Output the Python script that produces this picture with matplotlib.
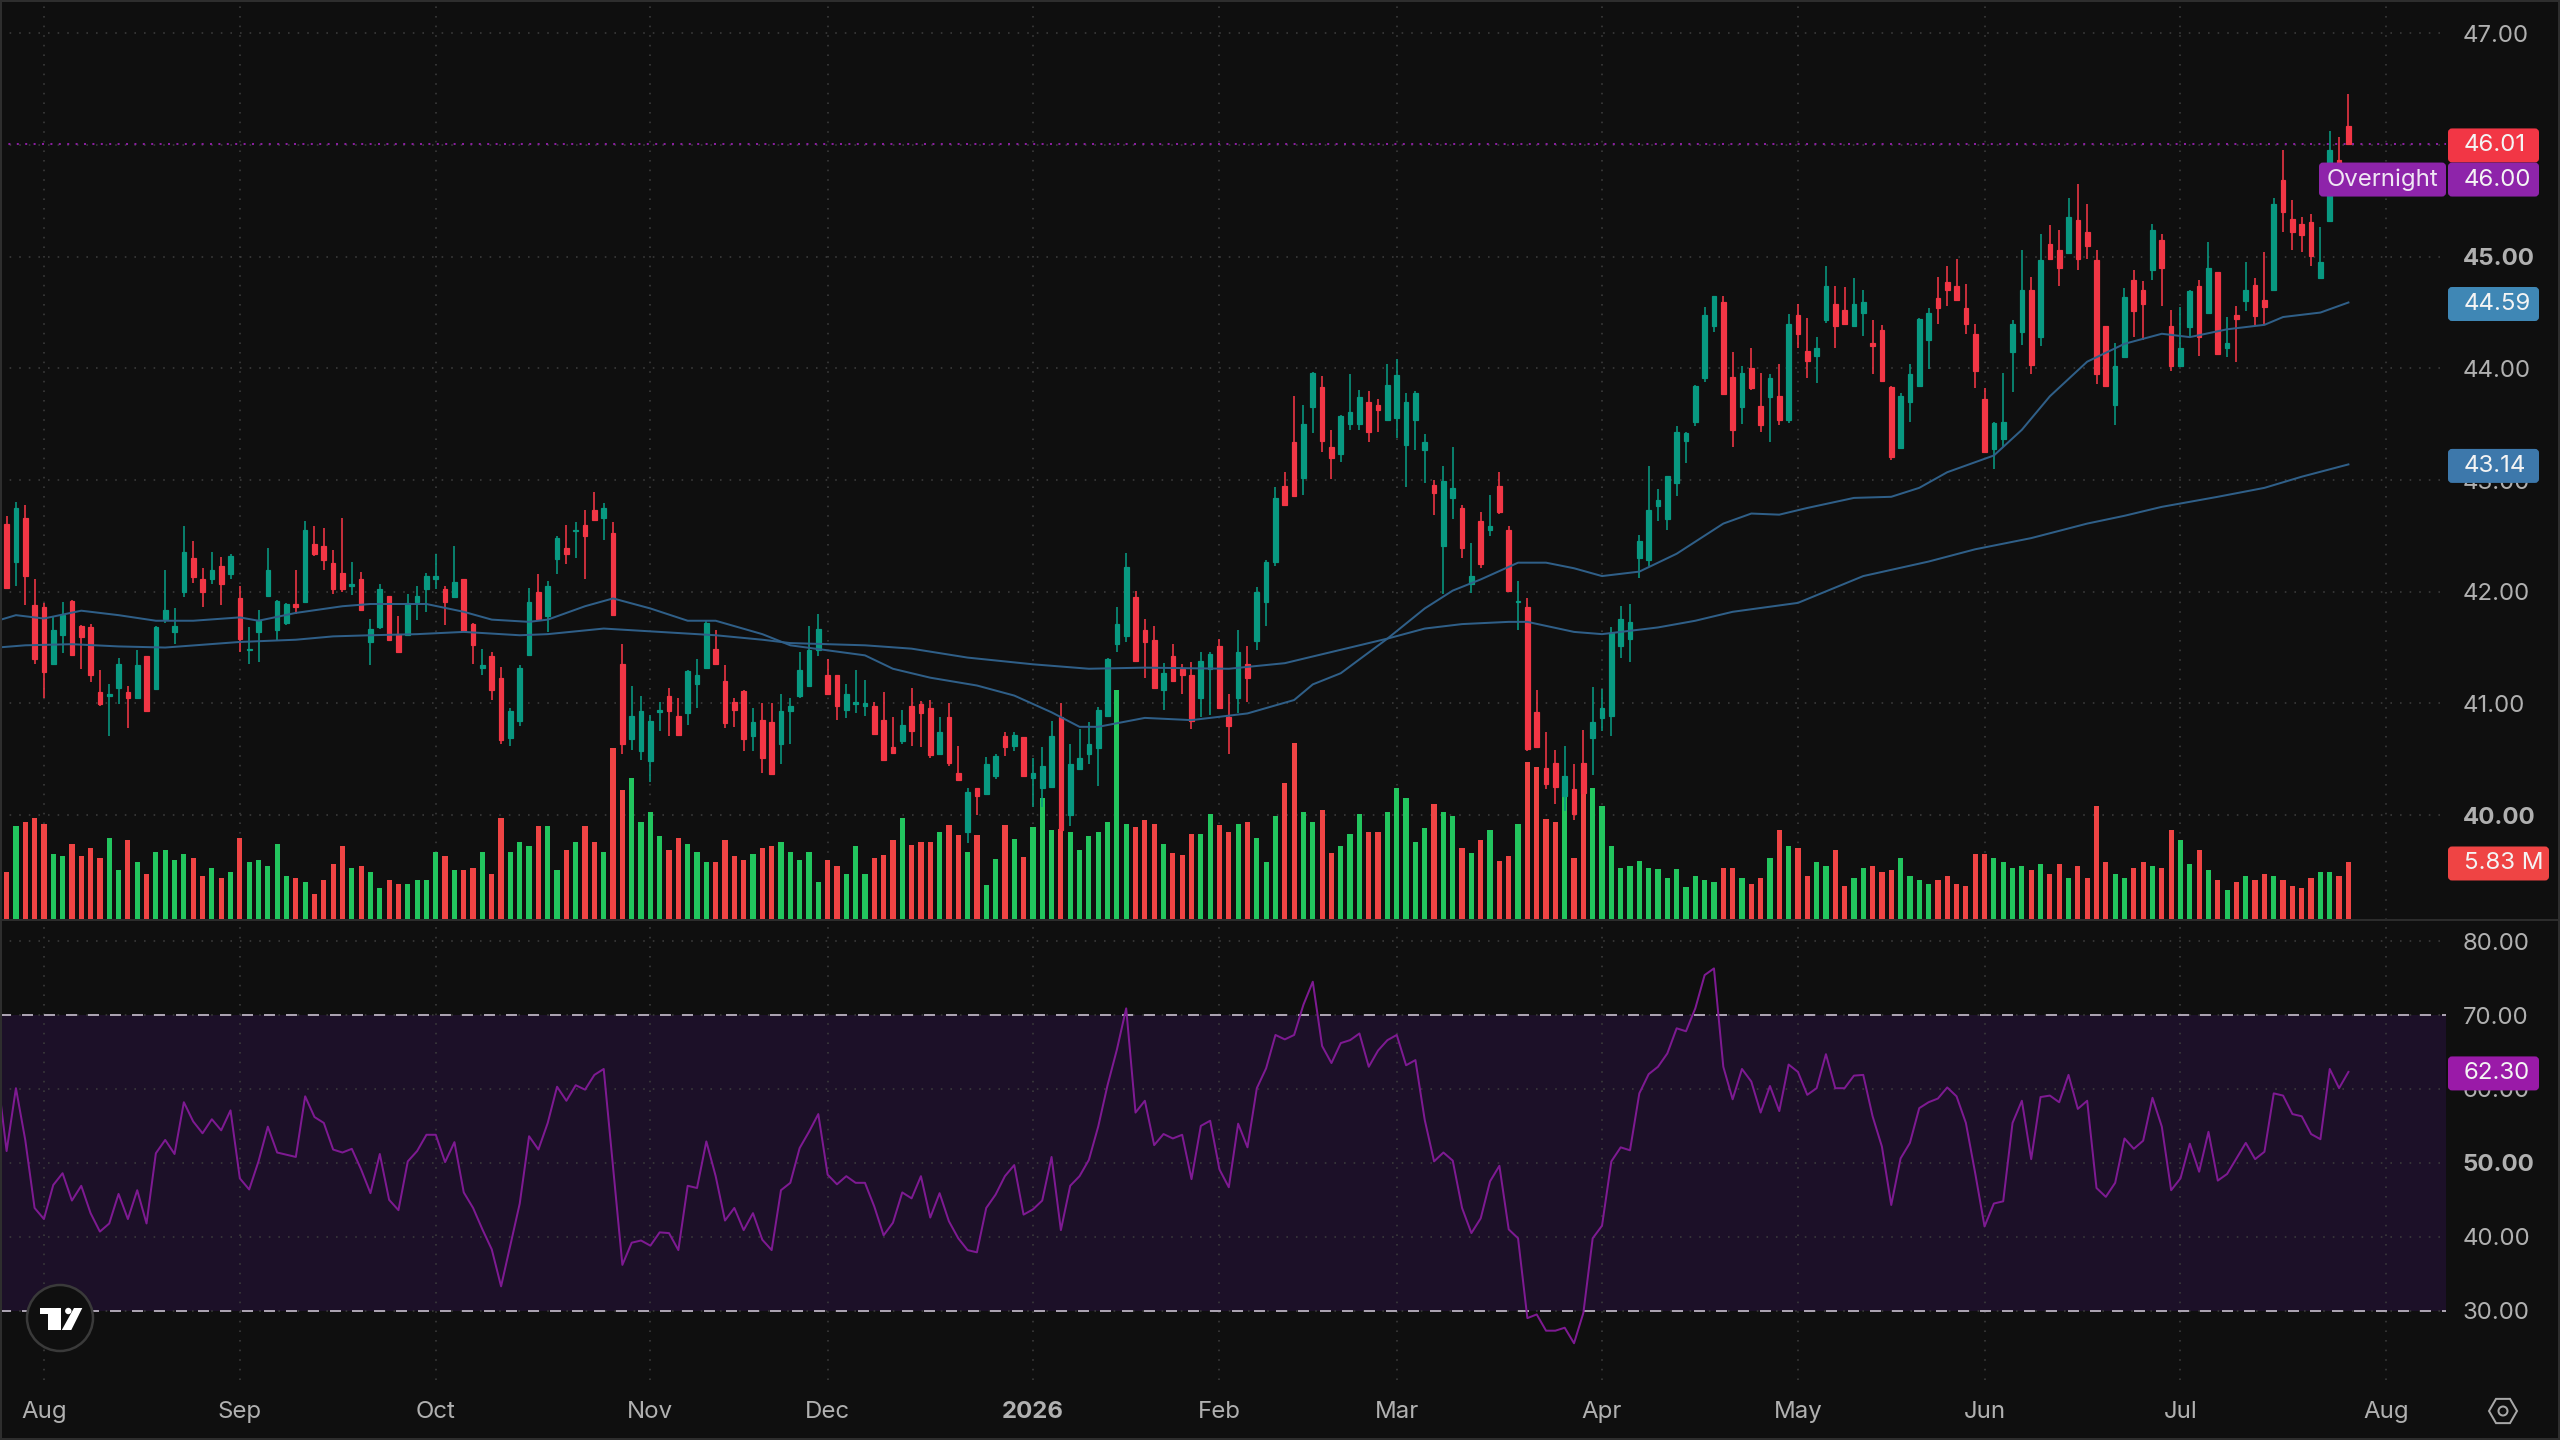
#! /usr/bin/env python3

import matplotlib
matplotlib.use("Agg")
import matplotlib.pyplot as plt
from matplotlib.patches import Circle, FancyBboxPatch, Polygon, Rectangle, RegularPolygon
from matplotlib.lines import Line2D
import numpy as np

W = 2560
H = 1440

# daily session data, one entry per trading day
opens = [
  42.61, 42.27, 42.66, 41.88, 41.86, 41.35, 41.61, 41.92, 41.69, 41.68,
  41.10, 41.07, 41.14, 41.10, 41.05, 41.42, 41.13, 41.76, 41.64, 42.00,
  42.30, 42.11, 42.11, 42.23, 42.16, 41.94, 41.48, 41.64, 41.96, 41.66,
  41.72, 41.89, 41.91, 42.43, 42.41, 42.26, 42.17, 42.05, 42.11, 41.55,
  41.68, 41.96, 41.62, 41.61, 41.91, 42.02, 42.11, 42.02, 41.95, 42.11,
  41.71, 41.32, 41.42, 41.23, 40.69, 40.84, 41.43, 42.00, 41.78, 42.29,
  42.39, 42.54, 42.60, 42.73, 42.66, 42.53, 41.35, 40.68, 40.57, 40.48,
  40.92, 41.07, 40.89, 40.91, 41.17, 41.32, 41.49, 41.20, 41.01, 41.11,
  40.71, 40.85, 40.83, 40.64, 40.93, 41.07, 41.16, 41.48, 41.25, 41.25,
  40.94, 40.99, 40.98, 40.98, 40.85, 40.61, 40.66, 40.98, 40.99, 40.96,
  40.55, 40.88, 40.38, 39.85, 40.24, 40.19, 40.35, 40.71, 40.62, 40.70,
  40.33, 40.24, 40.25, 40.88, 40.00, 40.41, 40.55, 40.60, 40.89, 41.53,
  41.60, 41.95, 41.66, 41.57, 41.12, 41.42, 41.31, 41.25, 41.05, 41.31,
  41.51, 40.88, 41.05, 41.35, 41.56, 41.91, 42.27, 42.95, 43.34, 43.02,
  43.65, 43.83, 43.30, 43.23, 43.50, 43.50, 43.70, 43.67, 43.54, 43.56,
  43.31, 43.54, 43.27, 42.96, 42.41, 42.84, 42.75, 42.07, 42.63, 42.55,
  42.95, 42.55, 41.91, 41.86, 40.92, 40.42, 40.47, 40.17, 40.23, 40.47,
  40.69, 40.87, 40.89, 41.51, 41.58, 42.30, 42.28, 42.77, 42.65, 42.97,
  43.35, 43.52, 43.91, 44.38, 44.59, 43.92, 43.65, 44.00, 43.66, 43.74,
  43.75, 43.54, 44.48, 44.16, 44.11, 44.43, 44.58, 44.52, 44.38, 44.50,
  44.23, 44.34, 43.83, 43.29, 43.70, 43.84, 44.25, 44.63, 44.77, 44.74,
  44.54, 44.31, 43.73, 43.28, 43.37, 44.15, 44.33, 44.70, 44.28, 45.11,
  45.06, 45.03, 45.33, 45.22, 44.97, 44.38, 43.67, 44.10, 44.79, 44.70,
  44.88, 45.15, 44.38, 44.02, 44.37, 44.74, 44.50, 44.86, 44.18, 44.48,
  44.60, 44.75, 44.61, 44.70, 45.69, 45.34, 45.29, 45.31, 44.81, 45.32,
  45.87, 46.17,
]
closes = [
  42.03, 42.75, 42.14, 41.40, 41.28, 41.66, 41.79, 41.43, 41.59, 41.25,
  40.99, 41.08, 41.35, 41.05, 41.34, 40.93, 41.68, 41.84, 41.69, 42.36,
  42.13, 42.00, 42.19, 42.07, 42.32, 41.58, 41.49, 41.75, 42.19, 41.92,
  41.89, 41.86, 42.55, 42.34, 42.28, 42.02, 42.02, 42.07, 41.84, 41.67,
  42.02, 41.57, 41.46, 41.90, 41.96, 42.14, 42.14, 41.91, 42.09, 41.65,
  41.52, 41.34, 41.12, 40.67, 40.93, 41.32, 41.91, 41.76, 42.05, 42.48,
  42.34, 42.55, 42.50, 42.64, 42.75, 41.79, 40.64, 40.89, 40.93, 40.84,
  40.94, 40.93, 40.72, 41.29, 41.25, 41.72, 41.35, 40.82, 40.94, 40.68,
  40.83, 40.51, 40.37, 40.93, 40.98, 41.30, 41.48, 41.67, 41.08, 40.98,
  41.08, 41.01, 41.00, 40.73, 40.49, 40.56, 40.81, 40.75, 40.91, 40.54,
  40.74, 40.47, 40.31, 40.21, 40.17, 40.46, 40.53, 40.61, 40.72, 40.35,
  40.38, 40.44, 40.71, 39.87, 40.46, 40.51, 40.64, 40.94, 41.40, 41.71,
  42.22, 41.38, 41.55, 41.14, 41.27, 41.20, 41.25, 40.84, 41.38, 41.44,
  40.96, 40.80, 41.46, 41.23, 42.00, 42.27, 42.84, 42.78, 42.86, 43.50,
  43.96, 43.35, 43.20, 43.57, 43.61, 43.74, 43.43, 43.63, 43.85, 43.94,
  43.70, 43.78, 43.34, 42.88, 42.99, 42.93, 42.39, 42.14, 42.25, 42.59,
  42.71, 42.01, 41.92, 40.59, 40.61, 40.28, 40.25, 40.35, 40.01, 40.20,
  40.83, 40.96, 41.63, 41.76, 41.73, 42.45, 42.73, 42.82, 43.04, 43.43,
  43.42, 43.84, 44.48, 44.65, 43.77, 43.45, 43.96, 43.82, 43.49, 43.91,
  43.54, 44.40, 44.31, 44.07, 44.18, 44.74, 44.38, 44.40, 44.58, 44.59,
  44.20, 43.89, 43.21, 43.75, 43.95, 44.44, 44.50, 44.54, 44.70, 44.61,
  44.40, 43.98, 43.25, 43.51, 43.52, 44.40, 44.70, 44.03, 44.97, 44.98,
  44.90, 45.36, 44.98, 45.10, 43.95, 43.84, 44.02, 44.64, 44.51, 44.58,
  45.24, 44.90, 44.02, 44.18, 44.69, 44.28, 44.90, 44.13, 44.23, 44.44,
  44.70, 44.47, 44.55, 45.47, 45.40, 45.22, 45.19, 45.01, 44.95, 45.96,
  45.72, 46.01,
]
highs = [
  42.68, 42.80, 42.78, 42.11, 41.90, 41.78, 41.91, 41.93, 41.70, 41.71,
  41.30, 41.17, 41.41, 41.16, 41.48, 41.42, 41.69, 42.19, 41.85, 42.59,
  42.45, 42.21, 42.36, 42.31, 42.34, 42.05, 41.68, 41.84, 42.39, 41.93,
  41.90, 42.19, 42.63, 42.59, 42.57, 42.37, 42.66, 42.27, 42.18, 41.76,
  42.07, 41.96, 41.78, 41.98, 42.05, 42.17, 42.34, 42.05, 42.41, 42.11,
  41.72, 41.49, 41.46, 41.33, 40.96, 41.34, 42.03, 42.16, 42.10, 42.50,
  42.60, 42.62, 42.73, 42.89, 42.79, 42.62, 41.53, 41.16, 41.07, 40.90,
  41.01, 41.14, 41.05, 41.30, 41.40, 41.74, 41.66, 41.34, 41.05, 41.12,
  40.96, 41.00, 41.00, 41.08, 41.05, 41.46, 41.69, 41.80, 41.40, 41.25,
  41.17, 41.30, 41.21, 41.01, 41.10, 40.88, 40.94, 41.14, 41.02, 41.03,
  40.88, 41.00, 40.62, 40.24, 40.24, 40.52, 40.55, 40.74, 40.74, 40.70,
  40.51, 40.61, 40.84, 41.00, 40.64, 40.77, 40.83, 40.97, 41.41, 41.86,
  42.35, 42.01, 41.76, 41.69, 41.36, 41.53, 41.35, 41.37, 41.46, 41.46,
  41.58, 41.08, 41.66, 41.51, 42.04, 42.28, 42.94, 43.07, 43.75, 43.67,
  43.97, 43.93, 43.45, 43.58, 43.95, 43.81, 43.80, 43.73, 44.04, 44.08,
  43.78, 43.80, 43.41, 43.00, 43.13, 43.30, 42.78, 42.44, 42.71, 42.87,
  43.07, 42.59, 42.10, 41.94, 41.12, 40.74, 40.58, 40.62, 40.46, 40.76,
  41.15, 41.13, 41.68, 41.87, 41.89, 42.51, 43.13, 42.92, 43.04, 43.48,
  43.43, 43.85, 44.55, 44.65, 44.65, 44.15, 44.02, 44.18, 43.96, 43.95,
  44.04, 44.49, 44.58, 44.45, 44.28, 44.92, 44.74, 44.73, 44.81, 44.70,
  44.43, 44.39, 43.84, 43.78, 44.04, 44.45, 44.54, 44.82, 44.92, 44.98,
  44.76, 44.40, 43.82, 43.52, 43.96, 44.43, 45.06, 44.82, 45.20, 45.28,
  45.24, 45.53, 45.65, 45.47, 45.06, 44.38, 44.23, 44.72, 44.88, 44.78,
  45.29, 45.20, 44.52, 44.55, 44.70, 44.79, 45.13, 44.86, 44.46, 44.56,
  44.95, 44.81, 45.04, 45.53, 45.96, 45.51, 45.36, 45.38, 45.27, 46.13,
  46.07, 46.46,
]
lows = [
  42.02, 42.05, 41.88, 41.35, 41.05, 41.34, 41.45, 41.42, 41.31, 41.19,
  40.98, 40.71, 40.99, 40.78, 41.05, 40.92, 41.12, 41.72, 41.53, 41.95,
  42.08, 41.86, 42.07, 41.88, 42.11, 41.46, 41.35, 41.37, 41.95, 41.57,
  41.70, 41.80, 41.91, 42.32, 42.19, 41.98, 42.00, 41.97, 41.84, 41.34,
  41.67, 41.57, 41.46, 41.60, 41.75, 41.82, 42.02, 41.70, 41.94, 41.64,
  41.35, 41.25, 41.03, 40.64, 40.62, 40.80, 41.42, 41.75, 41.64, 42.16,
  42.25, 42.30, 42.11, 42.64, 42.46, 41.78, 40.55, 40.58, 40.49, 40.30,
  40.75, 40.71, 40.71, 40.81, 40.96, 41.32, 41.35, 40.78, 40.79, 40.57,
  40.57, 40.38, 40.37, 40.46, 40.64, 41.05, 41.15, 41.42, 41.08, 40.85,
  40.87, 40.91, 40.89, 40.72, 40.48, 40.55, 40.64, 40.62, 40.61, 40.51,
  40.54, 40.44, 40.31, 39.75, 40.00, 40.19, 40.32, 40.53, 40.57, 40.35,
  40.07, 40.07, 40.24, 39.86, 39.90, 40.40, 40.46, 40.26, 40.88, 41.46,
  41.55, 41.37, 41.23, 41.14, 40.94, 41.19, 41.08, 40.77, 40.88, 40.90,
  40.95, 40.55, 40.91, 41.01, 41.48, 41.69, 42.23, 42.78, 42.86, 42.87,
  43.42, 43.25, 43.01, 43.16, 43.45, 43.45, 43.34, 43.43, 43.53, 43.38,
  42.94, 43.27, 42.97, 42.69, 41.98, 42.65, 42.30, 41.99, 42.21, 42.50,
  42.70, 42.00, 41.66, 40.57, 40.60, 40.23, 40.10, 40.04, 39.96, 40.19,
  40.36, 40.75, 40.71, 41.41, 41.37, 42.12, 42.23, 42.63, 42.55, 42.86,
  43.15, 43.48, 43.88, 44.33, 43.76, 43.30, 43.50, 43.81, 43.43, 43.34,
  43.49, 43.51, 44.18, 43.91, 43.87, 44.41, 44.18, 44.39, 44.37, 44.29,
  43.95, 43.88, 43.18, 43.28, 43.52, 43.84, 43.99, 44.40, 44.56, 44.61,
  44.31, 43.82, 43.25, 43.10, 43.30, 43.79, 44.21, 43.95, 44.20, 44.98,
  44.74, 45.02, 44.88, 44.98, 43.86, 43.84, 43.49, 44.10, 44.28, 44.25,
  44.79, 44.56, 43.98, 44.02, 44.28, 44.11, 44.49, 44.13, 44.10, 44.06,
  44.51, 44.39, 44.40, 44.69, 45.22, 45.06, 45.04, 44.92, 44.81, 45.31,
  45.63, 46.01,
]

# volume in millions of shares
volumes = [
  4.79, 9.45, 9.85, 10.22, 9.65, 6.60, 6.43, 7.64, 6.43, 7.20,
  6.20, 8.21, 5.03, 8.04, 5.83, 4.59, 6.80, 7.04, 6.03, 6.60,
  6.20, 4.42, 5.19, 4.19, 4.79, 8.21, 5.80, 6.03, 5.43, 7.64,
  4.42, 4.19, 3.79, 2.61, 4.02, 5.63, 7.44, 5.19, 5.43, 4.79,
  3.18, 4.02, 3.58, 3.58, 4.02, 4.02, 6.80, 6.43, 5.03, 5.03,
  5.19, 6.80, 4.59, 10.22, 6.80, 7.81, 7.44, 9.45, 9.45, 5.03,
  7.04, 7.81, 9.45, 7.81, 6.80, 17.25, 13.07, 14.24, 9.85, 10.89,
  8.44, 7.04, 8.21, 7.64, 6.80, 5.80, 5.80, 8.04, 6.43, 6.03,
  6.60, 7.20, 7.44, 7.81, 6.80, 6.03, 6.80, 3.79, 6.03, 5.43,
  4.59, 7.44, 4.65, 6.23, 6.50, 8.08, 10.27, 7.50, 7.88, 7.88,
  8.88, 9.50, 8.50, 6.88, 8.50, 3.50, 6.12, 9.50, 8.12, 6.31,
  9.31, 12.31, 9.04, 9.12, 8.88, 7.08, 8.46, 8.88, 9.88, 23.15,
  9.65, 9.31, 10.08, 9.69, 7.65, 6.69, 6.50, 8.69, 8.65, 10.65,
  9.50, 8.88, 9.69, 9.88, 8.27, 5.85, 10.46, 13.73, 17.77, 10.88,
  9.88, 11.08, 6.69, 7.46, 8.69, 10.65, 8.88, 8.88, 10.88, 13.31,
  12.31, 7.88, 9.27, 11.69, 10.88, 10.50, 7.27, 6.69, 8.08, 9.08,
  5.88, 6.46, 9.69, 15.92, 15.35, 10.12, 9.88, 14.50, 6.27, 12.77,
  13.31, 11.50, 7.46, 5.27, 5.46, 5.88, 5.27, 5.08, 4.23, 5.08,
  3.27, 4.42, 4.02, 3.82, 5.23, 5.23, 4.22, 3.62, 4.22, 6.23,
  9.05, 7.44, 7.24, 4.42, 5.83, 5.43, 7.04, 3.42, 4.22, 5.23,
  5.43, 4.82, 5.03, 6.23, 4.42, 4.02, 3.62, 4.02, 4.42, 3.62,
  3.42, 6.63, 6.63, 6.23, 5.83, 5.23, 5.43, 5.03, 5.63, 4.62,
  5.63, 4.22, 5.43, 4.22, 11.46, 5.83, 4.62, 4.22, 5.23, 5.83,
  5.43, 5.23, 9.05, 8.04, 5.63, 7.04, 5.03, 4.02, 3.02, 3.82,
  4.42, 4.02, 4.62, 4.42, 4.02, 3.42, 3.22, 4.22, 4.82, 4.82,
  4.42, 5.83,
]

# RSI, first entry is the session before the visible window
rsi = [
  62.0,
  51.6, 60.1, 53.1, 43.9, 42.4, 47.0, 48.6, 44.9, 46.9, 43.2,
  40.7, 41.8, 45.8, 42.4, 46.3, 41.8, 51.3, 53.1, 51.2, 58.2,
  55.6, 54.0, 55.9, 54.4, 57.1, 47.9, 46.4, 50.2, 54.9, 51.4,
  51.1, 50.8, 59.0, 56.2, 55.4, 51.8, 51.4, 51.9, 49.1, 45.9,
  51.2, 45.0, 43.6, 50.2, 51.6, 53.8, 53.8, 50.1, 52.8, 46.0,
  43.9, 41.0, 38.3, 33.3, 38.9, 44.5, 53.6, 51.8, 55.4, 60.3,
  58.4, 60.5, 59.9, 61.9, 62.7, 49.5, 36.2, 39.2, 39.5, 38.8,
  40.6, 40.5, 38.2, 46.9, 46.6, 52.9, 48.2, 42.2, 43.9, 40.9,
  43.2, 39.6, 38.2, 46.3, 47.3, 52.0, 54.2, 56.6, 48.4, 47.1,
  48.2, 47.3, 47.3, 44.1, 40.2, 41.9, 46.0, 45.2, 48.2, 42.6,
  45.9, 42.1, 39.8, 38.2, 37.9, 43.9, 45.7, 48.2, 49.7, 43.0,
  43.7, 44.9, 50.8, 40.9, 46.9, 48.2, 50.4, 54.9, 60.5, 65.3,
  70.9, 56.8, 58.4, 52.4, 53.9, 53.3, 53.8, 47.8, 55.0, 55.7,
  49.1, 46.7, 55.3, 52.1, 60.1, 62.8, 67.3, 66.7, 67.3, 71.4,
  74.5, 65.8, 63.5, 66.2, 66.6, 67.5, 63.0, 65.2, 66.6, 67.3,
  63.2, 63.9, 55.8, 50.2, 51.4, 50.3, 43.9, 40.5, 42.5, 47.5,
  49.6, 41.0, 39.8, 29.0, 29.5, 27.3, 27.3, 27.7, 25.6, 29.7,
  39.8, 41.5, 50.2, 52.1, 51.7, 59.4, 62.0, 63.0, 64.8, 68.2,
  67.8, 70.9, 75.4, 76.3, 63.0, 58.6, 62.7, 61.0, 56.8, 60.4,
  57.0, 63.3, 62.3, 59.2, 60.1, 64.7, 60.1, 60.1, 61.8, 61.9,
  56.3, 52.2, 44.3, 50.6, 52.7, 57.4, 58.2, 58.7, 60.2, 59.0,
  55.4, 48.6, 41.4, 44.5, 44.8, 55.4, 58.4, 50.5, 58.9, 59.1,
  58.2, 61.9, 57.3, 58.4, 46.6, 45.4, 47.3, 53.3, 51.9, 53.0,
  58.8, 54.9, 46.3, 47.9, 52.6, 48.8, 54.2, 47.6, 48.5, 50.6,
  52.7, 50.5, 51.5, 59.4, 59.1, 56.6, 56.3, 53.9, 53.2, 62.7,
  60.1, 62.3,
]

# the two moving averages, sampled at the listed sessions
ma_fast_days = [-1, 1, 4, 8, 12, 16, 20, 25, 27, 31, 36, 39, 45, 49, 52, 56, 58, 62, 65, 69, 73, 76, 81, 84,
                92, 95, 99, 104, 108, 112, 115, 117, 122, 127, 133, 138, 140, 143, 148, 152, 155, 158, 162,
                165, 168, 171, 175, 179, 184, 187, 190, 193, 198, 202, 205, 208, 213, 216, 219, 223, 227,
                231, 234, 238, 242, 244, 248, 251]
ma_fast = [41.74, 41.79, 41.76, 41.83, 41.79, 41.74, 41.74, 41.77, 41.74, 41.81, 41.87, 41.89, 41.89, 41.82,
           41.75, 41.73, 41.75, 41.87, 41.94, 41.85, 41.74, 41.74, 41.62, 41.52,
           41.43, 41.31, 41.23, 41.16, 41.07, 40.92, 40.79, 40.79, 40.87, 40.85, 40.91, 41.03, 41.17, 41.27,
           41.58, 41.85, 42.01, 42.11, 42.26, 42.26, 42.21, 42.14, 42.18, 42.34, 42.61, 42.70, 42.69, 42.75,
           42.84, 42.85, 42.93, 43.07, 43.22, 43.45, 43.75, 44.06, 44.22, 44.31, 44.28, 44.35, 44.39, 44.46,
           44.50, 44.59]
ma_slow_days = [-1, 2, 7, 12, 17, 25, 31, 35, 39, 44, 49, 55, 58, 64, 70, 76, 81, 84, 92, 97, 103, 110, 116,
                122, 131, 137, 143, 148, 152, 156, 161, 163, 168, 171, 177, 181, 185, 192, 199, 206, 211,
                217, 223, 227, 231, 237, 242, 246, 251]
ma_slow = [41.50, 41.52, 41.53, 41.51, 41.50, 41.55, 41.57, 41.60, 41.61, 41.62, 41.64, 41.61, 41.62, 41.67,
           41.64, 41.61, 41.57, 41.54, 41.52, 41.49, 41.41, 41.35, 41.31, 41.32, 41.31, 41.36, 41.48, 41.58,
           41.67, 41.71, 41.73, 41.73, 41.64, 41.62, 41.68, 41.74, 41.82, 41.90, 42.14, 42.27, 42.38, 42.48,
           42.61, 42.68, 42.76, 42.85, 42.93, 43.03, 43.14]

price_ticks = [40, 41, 42, 43, 44, 45, 46, 47]
rsi_ticks = [30, 40, 50, 60, 70, 80]
month_days = [4, 25, 46, 69, 88, 110, 130, 149, 171, 192, 212, 233, 255]
month_labels = ["Aug", "Sep", "Oct", "Nov", "Dec", "2026", "Feb", "Mar", "Apr", "May", "Jun", "Jul", "Aug"]

BG = "#0f0f0f"
GRID = "#3c3c3c"
TEXT = "#b0b0b0"
CANDLE_UP = "#089981"
CANDLE_DOWN = "#f23645"
VOL_UP = "#22c55e"
VOL_DOWN = "#ef4444"
MA_COLOR = "#2f5f88"
RSI_COLOR = "#7e1a92"
BAND_COLOR = "#1c1028"
TICK_SIZE = 17.3

plt.rcParams['font.family'] = ['Inter', 'DejaVu Sans']


def pane_rect(left, top, right, bottom):
  return [left / W, (H - bottom) / H, (right - left) / W, (bottom - top) / H]


def px_to_pt(px):
  return px * 0.72


def dotted_grid(ax, axis="both"):
  ax.grid(True, axis=axis, color=GRID, linewidth=px_to_pt(1.6), linestyle=(0, (1, 5)))
  ax.set_axisbelow(True)


def style_y_ticks(ax, ticks, bold):
  ax.yaxis.tick_right()
  ax.set_yticks(ticks)
  ax.set_yticklabels(["%.2f" % t for t in ticks], ha="left", color=TEXT, fontsize=TICK_SIZE)
  ax.tick_params(axis="y", length=0, pad=px_to_pt(17))
  for label, t in zip(ax.get_yticklabels(), ticks):
    if t in bold:
      label.set_fontweight("bold")


def price_tag(fig, ax, value, text, color, right=2540, offset=0):
  # tag on the price scale, centred on the value it reports
  y = ax.transData.transform((0, value))[1] - offset - 1.5
  fig.add_artist(FancyBboxPatch((2449, y - 16), right - 2451, 32, boxstyle="round,pad=0,rounding_size=3",
                                fc=color, ec=color, lw=px_to_pt(2), transform=None, zorder=20))
  fig.text(2464 / W, y / H, text, color="#f4f4f4", fontsize=TICK_SIZE, ha="left", va="center", zorder=21)


def draw_logo(fig):
  fig.add_artist(Circle((60, H - 1318), 33, fc=BG, ec="#3a3a3a", lw=px_to_pt(2.5), transform=None, zorder=15))
  shapes = [
    [(39.5, 1308), (61.4, 1308), (61.4, 1330), (48.3, 1330), (48.3, 1314), (39.5, 1314)],
    [(74, 1308), (82.3, 1308), (71.3, 1330), (61.8, 1330)],
  ]
  for s in shapes:
    pts = [(x, H - y) for x, y in s]
    fig.add_artist(Polygon(pts, closed=True, fc="#ffffff", ec="none", transform=None, zorder=16))
  fig.add_artist(Circle((68.3, H - 1311), 3.2, fc="#ffffff", ec="none", transform=None, zorder=16))


def draw_settings_icon(fig):
  fig.add_artist(RegularPolygon((2503, H - 1411), 6, radius=14, orientation=np.pi / 6, fc="none",
                                ec="#a8a8a8", lw=px_to_pt(2), transform=None, zorder=15))
  fig.add_artist(Circle((2503, H - 1411), 4.5, fc="none", ec="#a8a8a8", lw=px_to_pt(2), transform=None, zorder=15))


days = np.arange(len(closes))
up = np.array(closes) >= np.array(opens)
body_low = np.minimum(opens, closes)
body_high = np.maximum(opens, closes)

fig = plt.figure(figsize=(W / 100, H / 100), dpi=100, facecolor=BG)

grid_ax = fig.add_axes(pane_rect(0, 0, 2446, 920), facecolor=BG)
vol_ax = fig.add_axes(pane_rect(0, 0, 2446, 920), sharex=grid_ax, facecolor="none")
price_ax = fig.add_axes(pane_rect(0, 0, 2446, 920), sharex=grid_ax, facecolor="none")
rsi_ax = fig.add_axes(pane_rect(0, 920, 2446, 1380), sharex=grid_ax, facecolor=BG)

grid_ax.set_xlim(-0.707, 261.46)
grid_ax.set_ylim(39.06, 47.299)
price_ax.set_ylim(39.06, 47.299)
vol_ax.set_ylim(0, 92.46)
rsi_ax.set_ylim(20.63, 82.85)

dotted_grid(grid_ax)
style_y_ticks(grid_ax, price_ticks, [40, 45])

vol_ax.bar(days, volumes, width=0.56, color=[VOL_UP if u else VOL_DOWN for u in up], linewidth=0)

wick_colors = [CANDLE_UP if u else CANDLE_DOWN for u in up]
price_ax.vlines(days, lows, highs, colors=wick_colors, linewidth=px_to_pt(1.6), zorder=3)
price_ax.bar(days, body_high - body_low, bottom=body_low, width=0.5, color=wick_colors, edgecolor=wick_colors,
             linewidth=px_to_pt(1.2), zorder=4)
price_ax.plot(ma_fast_days, ma_fast, color=MA_COLOR, linewidth=px_to_pt(2), zorder=5)
price_ax.plot(ma_slow_days, ma_slow, color=MA_COLOR, linewidth=px_to_pt(2), zorder=5)
price_ax.axhline(closes[-1], color="#8a1fa0", linewidth=px_to_pt(2), linestyle=(0, (1, 3.2)), zorder=2)

rsi_ax.axhspan(30, 70, color=BAND_COLOR, linewidth=0, zorder=0)
dotted_grid(rsi_ax)
style_y_ticks(rsi_ax, rsi_ticks, [50])
rsi_ax.axhline(30, color="#aaa2b0", linewidth=px_to_pt(2), linestyle=(0, (5.5, 5.5)), zorder=2)
rsi_ax.axhline(70, color="#aaa2b0", linewidth=px_to_pt(2), linestyle=(0, (5.5, 5.5)), zorder=2)
rsi_ax.plot(np.arange(-1, len(closes)), rsi, color=RSI_COLOR, linewidth=px_to_pt(2), zorder=3)

rsi_ax.set_xticks(month_days)
rsi_ax.set_xticklabels(month_labels, color=TEXT, fontsize=TICK_SIZE)
rsi_ax.tick_params(axis="x", length=0, pad=px_to_pt(21))
for label, text in zip(rsi_ax.get_xticklabels(), month_labels):
  if text == "2026":
    label.set_fontweight("bold")

for ax in (grid_ax, vol_ax, price_ax, rsi_ax):
  for spine in ax.spines.values():
    spine.set_visible(False)
for ax in (vol_ax, price_ax):
  ax.xaxis.set_visible(False)
  ax.yaxis.set_visible(False)
plt.setp(grid_ax.get_xticklabels(), visible=False)
grid_ax.tick_params(axis="x", length=0)
grid_ax.set_xticks(month_days)

fig.add_artist(Line2D([0, 1], [(H - 920) / H, (H - 920) / H], color="#2c2c2c", linewidth=px_to_pt(2), zorder=10))
fig.add_artist(Rectangle((0, 0), 1, 1, fc="none", ec="#2e2e2e", lw=px_to_pt(4), transform=fig.transFigure, zorder=10))

fig.canvas.draw()

price_tag(fig, price_ax, closes[-1], "%.2f" % closes[-1], CANDLE_DOWN)
price_tag(fig, price_ax, ma_fast[-1], "%.2f" % ma_fast[-1], "#3f87b5")
price_tag(fig, price_ax, ma_slow[-1], "%.2f" % ma_slow[-1], "#3d78ab")
price_tag(fig, vol_ax, volumes[-1], "%.2f M" % volumes[-1], VOL_DOWN, right=2550)
price_tag(fig, rsi_ax, rsi[-1], "%.2f" % rsi[-1], "#9a1aa8")

# overnight quote sits just under the last price tag
overnight_price = 46.00
price_tag(fig, price_ax, overnight_price, "%.2f" % overnight_price, "#8e24aa", offset=33)
overnight_y = price_ax.transData.transform((0, overnight_price))[1] - 33 - 1.5
fig.add_artist(FancyBboxPatch((2320, overnight_y - 16), 125, 32, boxstyle="round,pad=0,rounding_size=3",
                              fc="#8e24aa", ec="#8e24aa", lw=px_to_pt(2), transform=None, zorder=20))
fig.text(2382 / W, overnight_y / H, "Overnight", color="#f0e6f4", fontsize=TICK_SIZE, ha="center", va="center", zorder=21)

draw_logo(fig)
draw_settings_icon(fig)

fig.savefig("out.png", dpi=100, facecolor=BG)
